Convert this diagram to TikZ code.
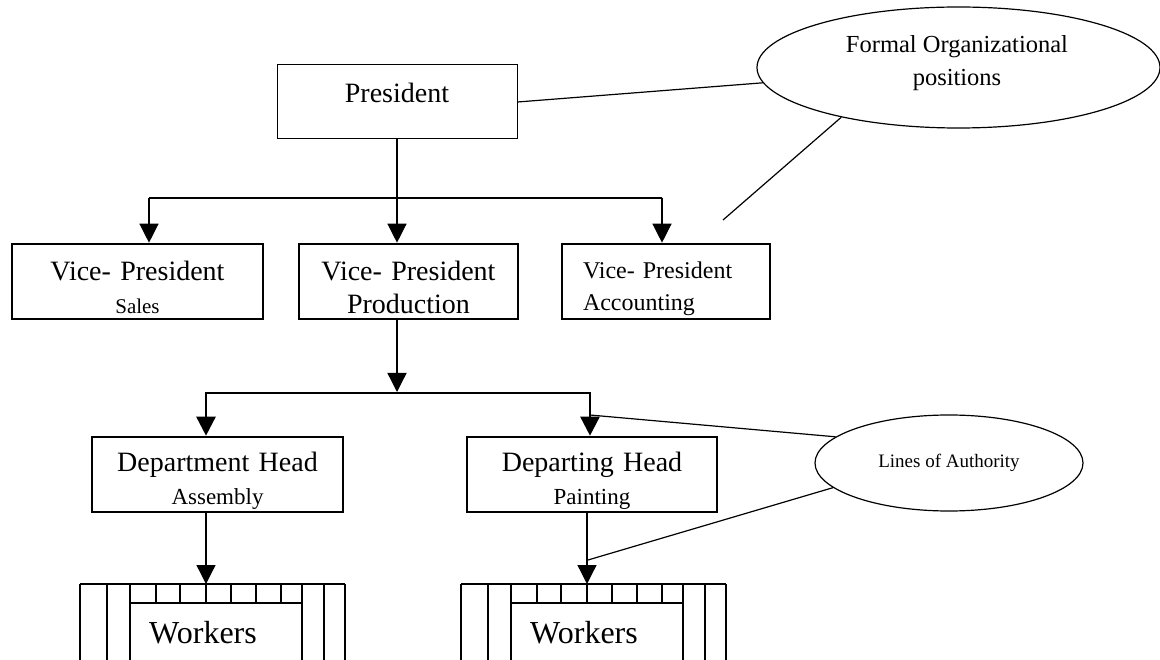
\documentclass[tikz,border=0pt]{standalone}
\usepackage{fontspec}
\setmainfont{Liberation Serif}
\usetikzlibrary{arrows.meta,shapes.geometric}

\begin{document}
\begin{tikzpicture}[x=1pt,y=-1pt,
    box/.style={draw, line width=2.6pt, minimum height=75pt, inner sep=0pt, text width=210pt, align=center, text height=31pt, font=\fontsize{28}{33}\selectfont},
    oval/.style={draw, ellipse, line width=1.2pt, inner sep=0pt},
    arr/.style={-{Triangle[width=19pt,length=19pt]}, line width=1.3pt},
    link/.style={line width=1.2pt}]
    \useasboundingbox (0,0) rectangle (1160,660);

    % Draw boxes
    \node[draw, line width=1pt, minimum width=240pt, minimum height=74pt, text height=19pt, text depth=17pt, font=\fontsize{28}{33}\selectfont] (pres) at (397,102) {President};
    \node[box, minimum width=251pt] (vps) at (137.5,281.5) {Vice- President\\{\fontsize{21}{33}\selectfont Sales}};
    \node[box, minimum width=219pt] (vpp) at (408.5,281.5) {Vice- President\\Production};
    \node[box, minimum width=208pt, text width=166pt, align=left, font=\fontsize{24}{32}\selectfont] (vpa) at (666,281.5) {Vice- President\\Accounting};
    \node[box, minimum width=251pt] (dha) at (217.5,474.5) {Department Head\\{\fontsize{23}{34}\selectfont Assembly}};
    \node[box, minimum width=250pt] (dhp) at (592,474.5) {Departing Head\\{\fontsize{23}{34}\selectfont Painting}};

    % Draw ovals
    \node[oval, minimum width=403pt, minimum height=121pt] (formal) at (958.5,67.5) {};
    \node[align=center, font=\fontsize{24.5}{33}\selectfont] (formaltxt) at (957,63) {Formal Organizational\\positions};
    \node[oval, minimum width=268pt, minimum height=96pt, font=\fontsize{19}{22}\selectfont] (loa) at (949,463) {Lines of Authority};

    % Draw workers
    \foreach \wx/\wn in {80/wa, 461/wp} {
      \begin{scope}[xshift=\wx pt]
        \draw[link] (0,584) -- (265,584);
        \foreach \t in {0,27,50,222,244,265} \draw[link] (\t,584) -- (\t,660);
        \foreach \t in {76,100,126,151,176,201} \draw[link] (\t,584) -- (\t,603);
        \draw[link] (50,603) -- (222,603);
        \coordinate (\wn-top) at (126,584);
        \node[font=\fontsize{32}{33}\selectfont] (\wn) at (123,633) {Workers};
      \end{scope}
    }

    % Connect president with vice-presidents
    \coordinate (bl) at (149,198);
    \coordinate (br) at (662,198);
    \draw[link] (bl) -- (br);
    \draw[arr] (pres.south) -- (pres.south |- vpp.north);
    \draw[arr] (bl) -- (bl |- vps.north);
    \draw[arr] (br) -- (br |- vpa.north);

    % Connect production with department heads
    \coordinate (pj) at (397,392);
    \coordinate (ql) at (206,393);
    \coordinate (qr) at (590,393);
    \draw[arr] (pres.south |- vpp.south) -- (pj);
    \draw[line width=2.6pt, {Triangle[width=19pt,length=19pt]}-{Triangle[width=19pt,length=19pt]}] (ql |- dha.north) -- (ql) -- (qr) -- (qr |- dhp.north);
    \draw[arr] (wa-top |- dha.south) -- (wa-top);
    \draw[arr] (wp-top |- dhp.south) -- (wp-top);

    % Lines to the ovals
    \coordinate (fp) at (723,220);
    \coordinate (la1) at (590,415);
    \coordinate (la2) at (588,560);
    \draw[link] (pres.east) -- (formal);
    \draw[link] (formal.203) -- (fp);
    \draw[link] (loa.167) -- (la1);
    \draw[link] (loa.192) -- (la2);
\end{tikzpicture}
\end{document}
